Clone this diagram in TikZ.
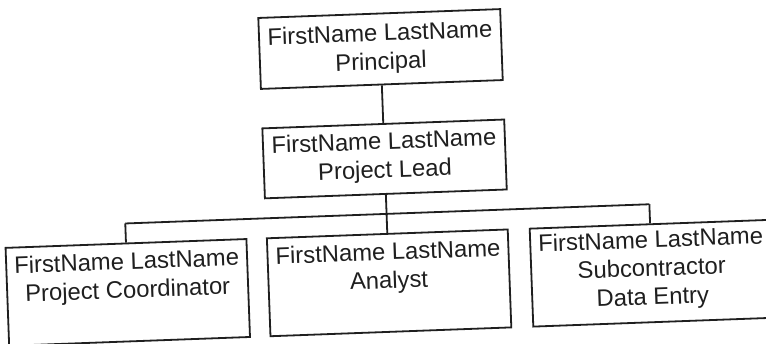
\documentclass[tikz,border=0pt]{standalone}
\usepackage{fontspec}
\setmainfont{Liberation Sans}
\begin{document}
\begin{tikzpicture}[x=1pt,y=1pt,
  box/.style={draw=black!88, line width=1.8pt, minimum width=242pt, inner sep=0pt},
  lbl/.style={font=\fontsize{23.8}{28.5}\selectfont, align=center, inner sep=0pt, text=black!88},
  conn/.style={draw=black!88, line width=1.8pt}]
\useasboundingbox (-383,-172) rectangle (383,171);
\fill[white] (-383,-172) rectangle (383,171);
\clip (-383,-172) rectangle (383,171);
\begin{scope}[rotate=2.1, transform shape]
  % boxes
  \node[box, minimum height=71pt] (principal) at (2,122) {};
  \node[box, minimum height=70pt] (lead) at (2,12) {};
  \node[box, minimum height=98pt, minimum width=241pt] (coord) at (-259.5,-112) {};
  \node[box, minimum height=98pt, minimum width=241pt] (analyst) at (2,-112) {};
  \node[box, minimum height=98pt, minimum width=241pt] (sub) at (265,-112) {};
  % labels
  \node[lbl] (principalT) at (principal.center) {FirstName LastName\\Principal};
  \node[lbl] (leadT) at ([yshift=1.5pt]lead.center) {FirstName LastName\\Project Lead};
  \node[lbl, anchor=north] (coordT) at ([yshift=-9.5pt]coord.north) {FirstName LastName\\Project Coordinator};
  \node[lbl, anchor=north] (analystT) at ([yshift=-9.5pt]analyst.north) {FirstName LastName\\Analyst};
  \node[lbl, anchor=north] (subT) at ([yshift=-7pt]sub.north) {FirstName LastName\\Subcontractor\\Data Entry};
  % connectors
  \coordinate (busL) at (-259.5,-43);
  \coordinate (busM) at (2,-43);
  \coordinate (busR) at (265,-43);
  \draw[conn] (principal.south) -- (lead.north);
  \draw[conn] (lead.south) -- (busM);
  \draw[conn] (busL) -- (busR);
  \draw[conn] (busL) -- (coord.north);
  \draw[conn] (busM) -- (analyst.north);
  \draw[conn] (busR) -- (sub.north);
\end{scope}
\end{tikzpicture}
\end{document}
